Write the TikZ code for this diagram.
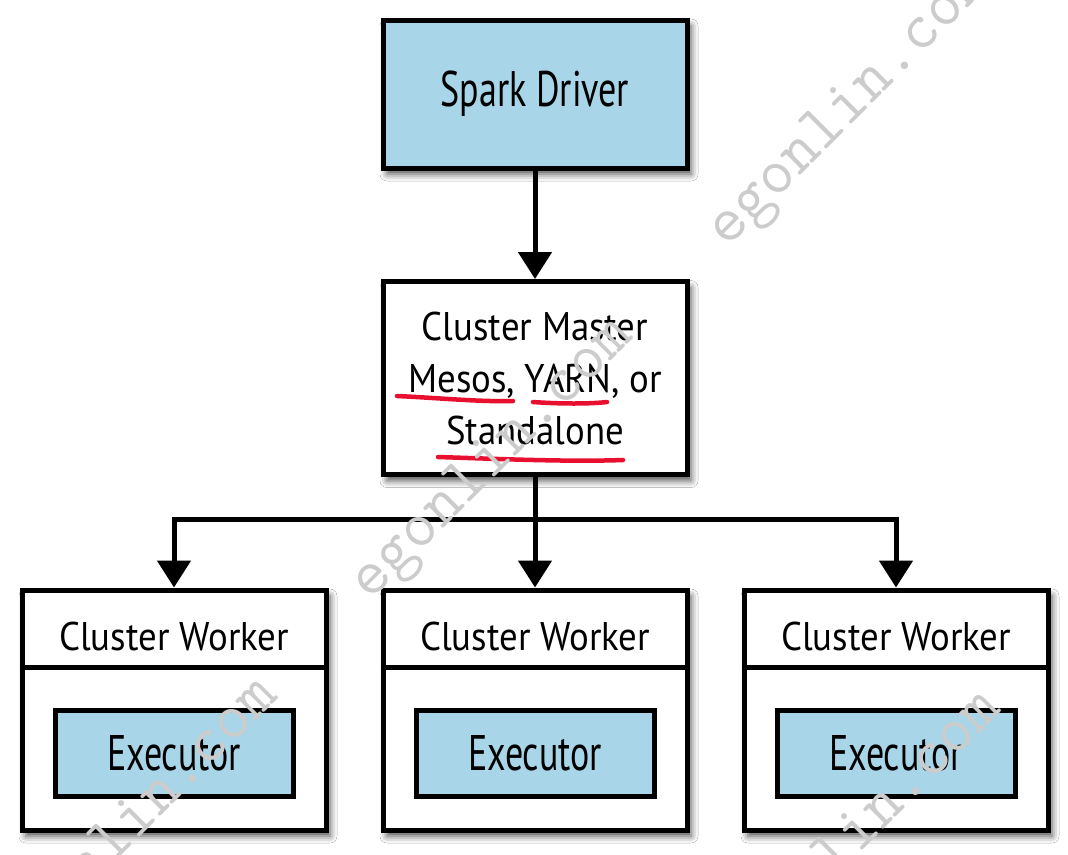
\documentclass[tikz,border=0pt]{standalone}
\usepackage{fontspec}
\setmainfont{PT Sans}
\newfontfamily\bigfont[FakeStretch=0.72]{PT Sans}
\newfontfamily\smallfont[FakeStretch=0.92]{PT Sans}
\usetikzlibrary{arrows.meta,shadows.blur}
\definecolor{boxblue}{RGB}{168,213,232}
\definecolor{ulred}{RGB}{232,16,46}
\begin{document}
\begin{tikzpicture}[x=1pt,y=-1pt,
  box/.style={draw=black, line width=5pt, minimum width=304pt, inner sep=0pt,
    blur shadow={shadow xshift=4pt, shadow yshift=-6pt, shadow blur radius=7pt, shadow opacity=70}},
  exec/.style={draw=black, fill=boxblue, line width=5pt, minimum width=238pt, minimum height=86pt, inner sep=0pt,
    font=\bigfont\fontsize{50}{56}\selectfont},
  bigtxt/.style={font=\bigfont\fontsize{50}{56}\selectfont},
  smalltxt/.style={font=\smallfont\fontsize{40}{52}\selectfont},
  conn/.style={line width=5pt, -{Triangle[width=33pt,length=27pt]}},
  ul/.style={draw=ulred, line width=4.5pt, line cap=round},
  wm/.style={font=\ttfamily\fontsize{66}{66}\selectfont, text=gray!40, inner sep=0pt, anchor=base west, rotate=45}]
\fill[white] (0,0) rectangle (1068,854);
\useasboundingbox (0,0) rectangle (1068,854);

% Spark driver
\node[box, fill=boxblue, minimum height=148pt, bigtxt] (driver) at (535,94) {Spark Driver};

% Cluster master
\node[box, fill=white, minimum height=193pt, align=center, smalltxt] (master) at (535,378)
  {Cluster Master\\Mesos, YARN, or\\Standalone};

% Workers
\node[box, fill=white, minimum height=240pt] (w1) at (174,710) {};
\node[box, fill=white, minimum height=240pt] (w2) at (535,710) {};
\node[box, fill=white, minimum height=240pt] (w3) at (896,710) {};
\foreach \w in {w1,w2,w3}{
  \draw[line width=5pt] (\w.north west) ++(0,80) -- ++(304,0);
}
\node[smalltxt, anchor=base] (t1) at (174,650) {Cluster Worker};
\node[smalltxt, anchor=base] (t2) at (535,650) {Cluster Worker};
\node[smalltxt, anchor=base] (t3) at (896,650) {Cluster Worker};

\node[exec] (e1) at (174,753) {Executor};
\node[exec] (e2) at (535,753) {Executor};
\node[exec] (e3) at (896,753) {Executor};

% connectors
\coordinate (bus) at (535,519);
\draw[conn] (driver.south) -- (master.north);
\draw[conn] (master.south) -- (bus) -| (w1.north);
\draw[conn] (master.south) -- (w2.north);
\draw[conn] (master.south) -- (bus) -| (w3.north);

% red underlines
\draw[ul] (397,396) .. controls (440,398) and (480,402) .. (513,401);
\draw[ul] (533,402) .. controls (560,404) and (590,404) .. (607,402);
\draw[ul] (438,457) .. controls (500,459) and (570,462) .. (623,460);

% watermarks
\node[wm] (wm1) at (370,602) {egonlin.com};
\node[wm] (wm2) at (727,249) {egonlin.com};
\node[wm] (wm3) at (15,962) {egonlin.com};
\node[wm] (wm4) at (738,975) {egonlin.com};
\end{tikzpicture}
\end{document}
